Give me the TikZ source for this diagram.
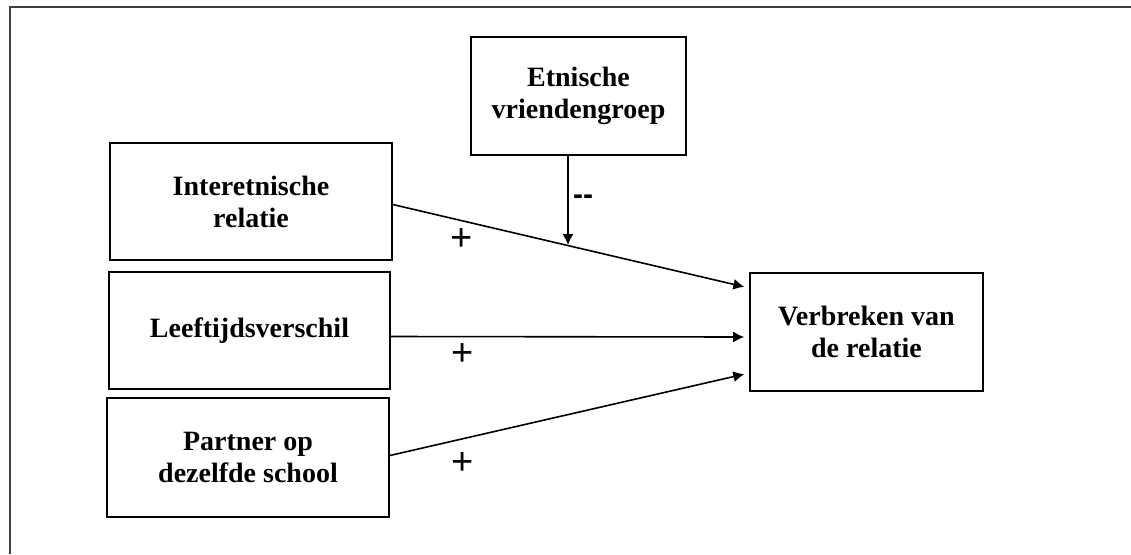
\documentclass[tikz,border=0pt]{standalone}
\usepackage{fontspec}
\setmainfont{Liberation Serif}
\newfontfamily\signfont{Liberation Sans}
\usetikzlibrary{arrows.meta}
\tikzset
    { factor box/.style = 
        { draw, line width=0.8pt, align=center
        , font=\bfseries\fontsize{14}{16}\selectfont
        , inner sep=0pt
        }
    , effect arrow/.style = 
        { line width=0.8pt
        , -{Latex[length=5.5pt, width=5.5pt]}
        }
    , sign label/.style = 
        { font=\signfont\fontsize{19}{19}\selectfont, inner sep=0pt
        }
    }

\begin{document}
\begin{tikzpicture}[x=0.5pt, y=-0.5pt]

            \useasboundingbox (0, 0) rectangle (1131, 554);
            \draw[line width=0.9pt, black!75] (1131, 7) -- (10, 7) -- (10, 554);

            \node[factor box, minimum width=141pt, minimum height=58.5pt] (inter) at (251, 201.5) {Interetnische\\relatie};
            \node[factor box, minimum width=140.5pt, minimum height=58.5pt] (leef) at (249.5, 330.5) {Leeftijdsverschil};
            \node[factor box, minimum width=141pt, minimum height=59.5pt] (partner) at (248, 457.5) {Partner op\\dezelfde school};
            \node[factor box, minimum width=107.5pt, minimum height=59pt] (etn) at (578.5, 96) {Etnische\\vriendengroep};
            \node[factor box, minimum width=116.5pt, minimum height=59pt] (verbr) at (866.5, 332) {Verbreken van\\de relatie};

            \coordinate (meet) at (568, 245);

            \draw[effect arrow, shorten >=2.5pt] ([yshift=-1.5pt]inter.east) -- ([yshift=22pt]verbr.west);
            \draw[effect arrow, shorten >=2.5pt] ([yshift=-3pt]leef.east) -- ([yshift=-2.5pt]verbr.west);
            \draw[effect arrow, shorten >=2.5pt] ([yshift=1pt]partner.east) -- ([yshift=-20.5pt]verbr.west);
            \draw[effect arrow] ([xshift=-5.25pt]etn.south) -- (meet);

            \node[sign label] (plus1) at (462, 240) {+};
            \node[sign label] (plus2) at (463, 355) {+};
            \node[sign label] (plus3) at (463, 464) {+};
            \node[sign label, font=\signfont\bfseries\fontsize{15}{15}\selectfont] (minus) at (583, 200) {-{}-};

        \end{tikzpicture}
\end{document}
